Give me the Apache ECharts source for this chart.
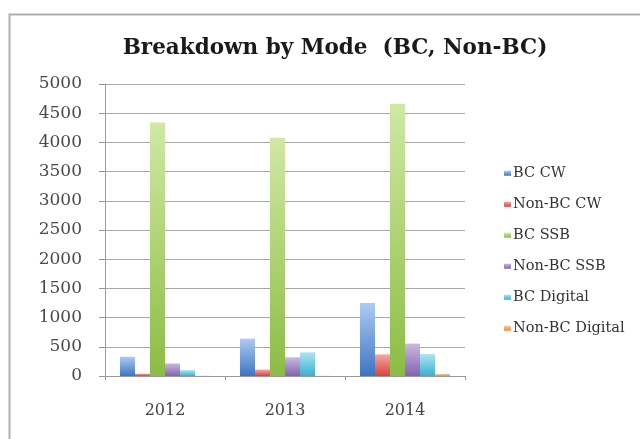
<!DOCTYPE html>
<html><head><meta charset="utf-8">
<script src="https://cdn.jsdelivr.net/npm/echarts@6/dist/echarts.min.js"></script>
<style>html,body{margin:0;padding:0;background:#fff}#c{width:640px;height:439px}</style>
</head><body><div id="c"></div>
<script>
const years = ['2012', '2013', '2014'];
const seriesNames = ['BC CW', 'Non-BC CW', 'BC SSB', 'Non-BC SSB', 'BC Digital', 'Non-BC Digital'];
const bcCW = [330, 640, 1250];
const nonBcCW = [40, 110, 370];
const bcSSB = [4340, 4080, 4660];
const nonBcSSB = [215, 320, 555];
const bcDigital = [100, 405, 375];
const nonBcDigital = [5, 5, 35];
const yTicks = [0, 500, 1000, 1500, 2000, 2500, 3000, 3500, 4000, 4500, 5000];

const values = [bcCW, nonBcCW, bcSSB, nonBcSSB, bcDigital, nonBcDigital];
const gradients = [
  ['#aecbf4', '#3d74c2'],
  ['#f6a5a1', '#d8423b'],
  ['#d0e8a4', '#8cbc44'],
  ['#c9b8e0', '#8364ae'],
  ['#ace4f1', '#39b0d1'],
  ['#fbcba0', '#ee8a3a']
];
const font = 'DejaVu Serif';

const chart = echarts.init(document.getElementById('c'));
chart.setOption({
  animation: false,
  backgroundColor: '#fff',
  graphic: [{
    type: 'rect', left: 7, top: 12, shape: { width: 800, height: 600 },
    style: { fill: 'none', stroke: '#b0b0b0', lineWidth: 2 }, z: -1
  }],
  title: {
    text: 'Breakdown by Mode  (BC, Non-BC)',
    left: 330, top: 32, textAlign: 'center',
    textStyle: { fontFamily: font, fontWeight: 'bold', fontSize: 21.5, color: '#1a1a1a' }
  },
  legend: {
    orient: 'vertical', left: 499, top: 160,
    itemWidth: 7, itemHeight: 5, itemGap: 14.5,
    icon: 'rect',
    data: seriesNames,
    textStyle: { fontFamily: font, fontSize: 14.5, color: '#333', lineHeight: 16.5, padding: [0, 0, 0, -3] }
  },
  grid: { left: 105, right: 175, top: 84, bottom: 63 },
  xAxis: {
    type: 'category', data: years,
    axisLine: { lineStyle: { color: '#999', width: 1 } },
    axisTick: { show: true, length: 4, lineStyle: { color: '#999' } },
    axisLabel: { fontFamily: font, fontSize: 16, color: '#444', margin: 27 }
  },
  yAxis: {
    type: 'value', min: 0, max: 5000, interval: 500,
    axisLine: { show: true, lineStyle: { color: '#999' } },
    axisTick: { show: true, length: 6, lineStyle: { color: '#999' } },
    splitLine: { lineStyle: { color: '#a8a8a8', width: 1 } },
    axisLabel: {
      fontFamily: font, fontSize: 17, color: '#4a4a4a', margin: 23,
      formatter: v => yTicks.includes(v) ? String(v) : ''
    }
  },
  series: seriesNames.map((name, i) => ({
    name, type: 'bar', data: values[i],
    barGap: '0%', barCategoryGap: '25%',
    itemStyle: {
      color: new echarts.graphic.LinearGradient(0, 0, 0, 1, [
        { offset: 0, color: gradients[i][0] },
        { offset: 1, color: gradients[i][1] }
      ])
    }
  }))
});
</script></body></html>
